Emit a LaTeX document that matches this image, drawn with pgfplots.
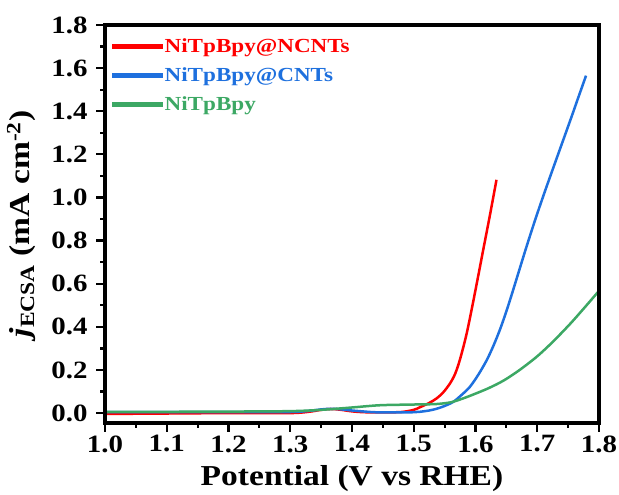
\documentclass[border=0pt]{standalone}
\usepackage{pgfplots}
\pgfplotsset{compat=1.18}
\usepackage{fontspec}
\setmainfont{Liberation Serif}[FakeStretch=1.16]
\definecolor{cred}{RGB}{255,0,0}
\definecolor{cblue}{RGB}{30,112,222}
\definecolor{cgreen}{RGB}{60,168,100}
\begin{document}
\begin{tikzpicture}
\useasboundingbox (-105bp,-72bp) rectangle (514bp,423bp);
\begin{axis}[
  name=ax, anchor=south west, at={(0,0)},
  scale only axis, width=494bp, height=398bp,
  xmin=1.0, xmax=1.8, ymin=-0.046, ymax=1.8,
  xtick={1.0,1.1,...,1.8}, ytick={0,0.2,...,1.8},
  tick pos=left, tick align=outside,
  major tick length=8bp,
  major tick style={draw=none},
  axis line style={draw=none},
  /pgf/number format/assume math mode=true,
  /pgf/number format/fixed, /pgf/number format/fixed zerofill, /pgf/number format/precision=1,
  ticklabel style={font=\bfseries\fontsize{25}{25}\selectfont},
  xticklabel style={yshift=-1bp},
  yticklabel style={xshift=-6bp},
  xlabel={\bfseries Potential (V vs RHE)},
  xlabel style={font=\fontsize{29}{29}\selectfont, yshift=-6bp},
  ylabel={\bfseries\itshape j\normalfont\bfseries\textsubscript{ECSA} (mA cm\textsuperscript{-2})},
  ylabel style={font=\fontsize{29}{29}\selectfont, yshift=9bp},
  legend style={at={(0.008,0.976)}, anchor=north west, draw=none, fill=none,
    font=\bfseries\fontsize{20}{20}\selectfont, row sep=9.5bp},
  legend cell align=left,
  legend image code/.code={\fill[#1] (0bp,-1.25bp) rectangle (48bp,1.25bp);},
]
\addplot[cred, line width=2.5bp, smooth] table {
1.00 -0.004
1.10 -0.002
1.20 0.000
1.30 0.000
1.33 0.006
1.35 0.015
1.365 0.019
1.38 0.016
1.40 0.008
1.42 0.004
1.45 0.003
1.48 0.005
1.50 0.015
1.51 0.027
1.525 0.047
1.537 0.068
1.548 0.097
1.5587 0.1375
1.567 0.182
1.575 0.250
1.5857 0.369
1.5965 0.520
1.605 0.645
1.6127 0.760
1.6235 0.920
1.634 1.082
};
\addlegendentry[text=cred]{NiTpBpy@NCNTs}
\addplot[cblue, line width=2.5bp, smooth] table {
1.00 0.004
1.10 0.004
1.20 0.004
1.30 0.005
1.33 0.010
1.35 0.017
1.365 0.020
1.38 0.018
1.40 0.012
1.43 0.005
1.45 0.003
1.48 0.003
1.50 0.004
1.51 0.006
1.525 0.012
1.537 0.020
1.55 0.033
1.564 0.052
1.577 0.083
1.591 0.122
1.605 0.180
1.6181 0.245
1.629 0.312
1.6397 0.388
1.650 0.472
1.660 0.562
1.670 0.655
1.680 0.748
1.690 0.838
1.700 0.925
1.712 1.025
1.725 1.130
1.740 1.250
1.755 1.370
1.767 1.468
1.779 1.565
};
\addlegendentry[text=cblue]{NiTpBpy@CNTs}
\addplot[cgreen, line width=2.5bp, smooth] table {
1.00 0.005
1.10 0.006
1.20 0.007
1.30 0.009
1.35 0.015
1.40 0.026
1.424 0.032
1.45 0.037
1.505 0.040
1.537 0.042
1.56 0.050
1.575 0.063
1.591 0.080
1.62 0.114
1.645 0.150
1.67 0.197
1.699 0.261
1.725 0.330
1.753 0.413
1.775 0.484
1.80 0.567
};
\addlegendentry[text=cgreen]{NiTpBpy}
\end{axis}
\begin{scope}[shift={(ax.south west)}]
  \foreach \k in {0,...,24} {
    \pgfmathsetmacro\aa{-1.75+\k*19.9}
    \pgfmathsetmacro\bb{min(\aa+20.2,495.75)}
    \fill[black] (\aa bp,-1.75bp) rectangle (\bb bp,1.75bp);
    \fill[black] (\aa bp,396.25bp) rectangle (\bb bp,399.75bp);
  }
  \foreach \k in {0,...,19} {
    \pgfmathsetmacro\aa{-1.75+\k*20.075}
    \pgfmathsetmacro\bb{min(\aa+20.375,399.75)}
    \fill[black] (-1.75bp,\aa bp) rectangle (1.75bp,\bb bp);
    \fill[black] (492.25bp,\aa bp) rectangle (495.75bp,\bb bp);
  }
  \foreach \i in {0,...,16} {
    \pgfmathsetmacro\xx{\i*30.875}
    \pgfmathsetmacro\LL{ifthenelse(mod(\i,2)==0,8.5,5)}
    \fill[black] (\xx bp-1.1bp,0bp) rectangle (\xx bp+1.1bp,-\LL bp);
  }
  \foreach \i in {0,...,18} {
    \pgfmathsetmacro\yy{9.918+\i*21.56}
    \pgfmathsetmacro\LL{ifthenelse(mod(\i,2)==0,8.5,5)}
    \fill[black] (0bp,\yy bp-1.1bp) rectangle (-\LL bp,\yy bp+1.1bp);
  }
\end{scope}
\end{tikzpicture}
\end{document}
